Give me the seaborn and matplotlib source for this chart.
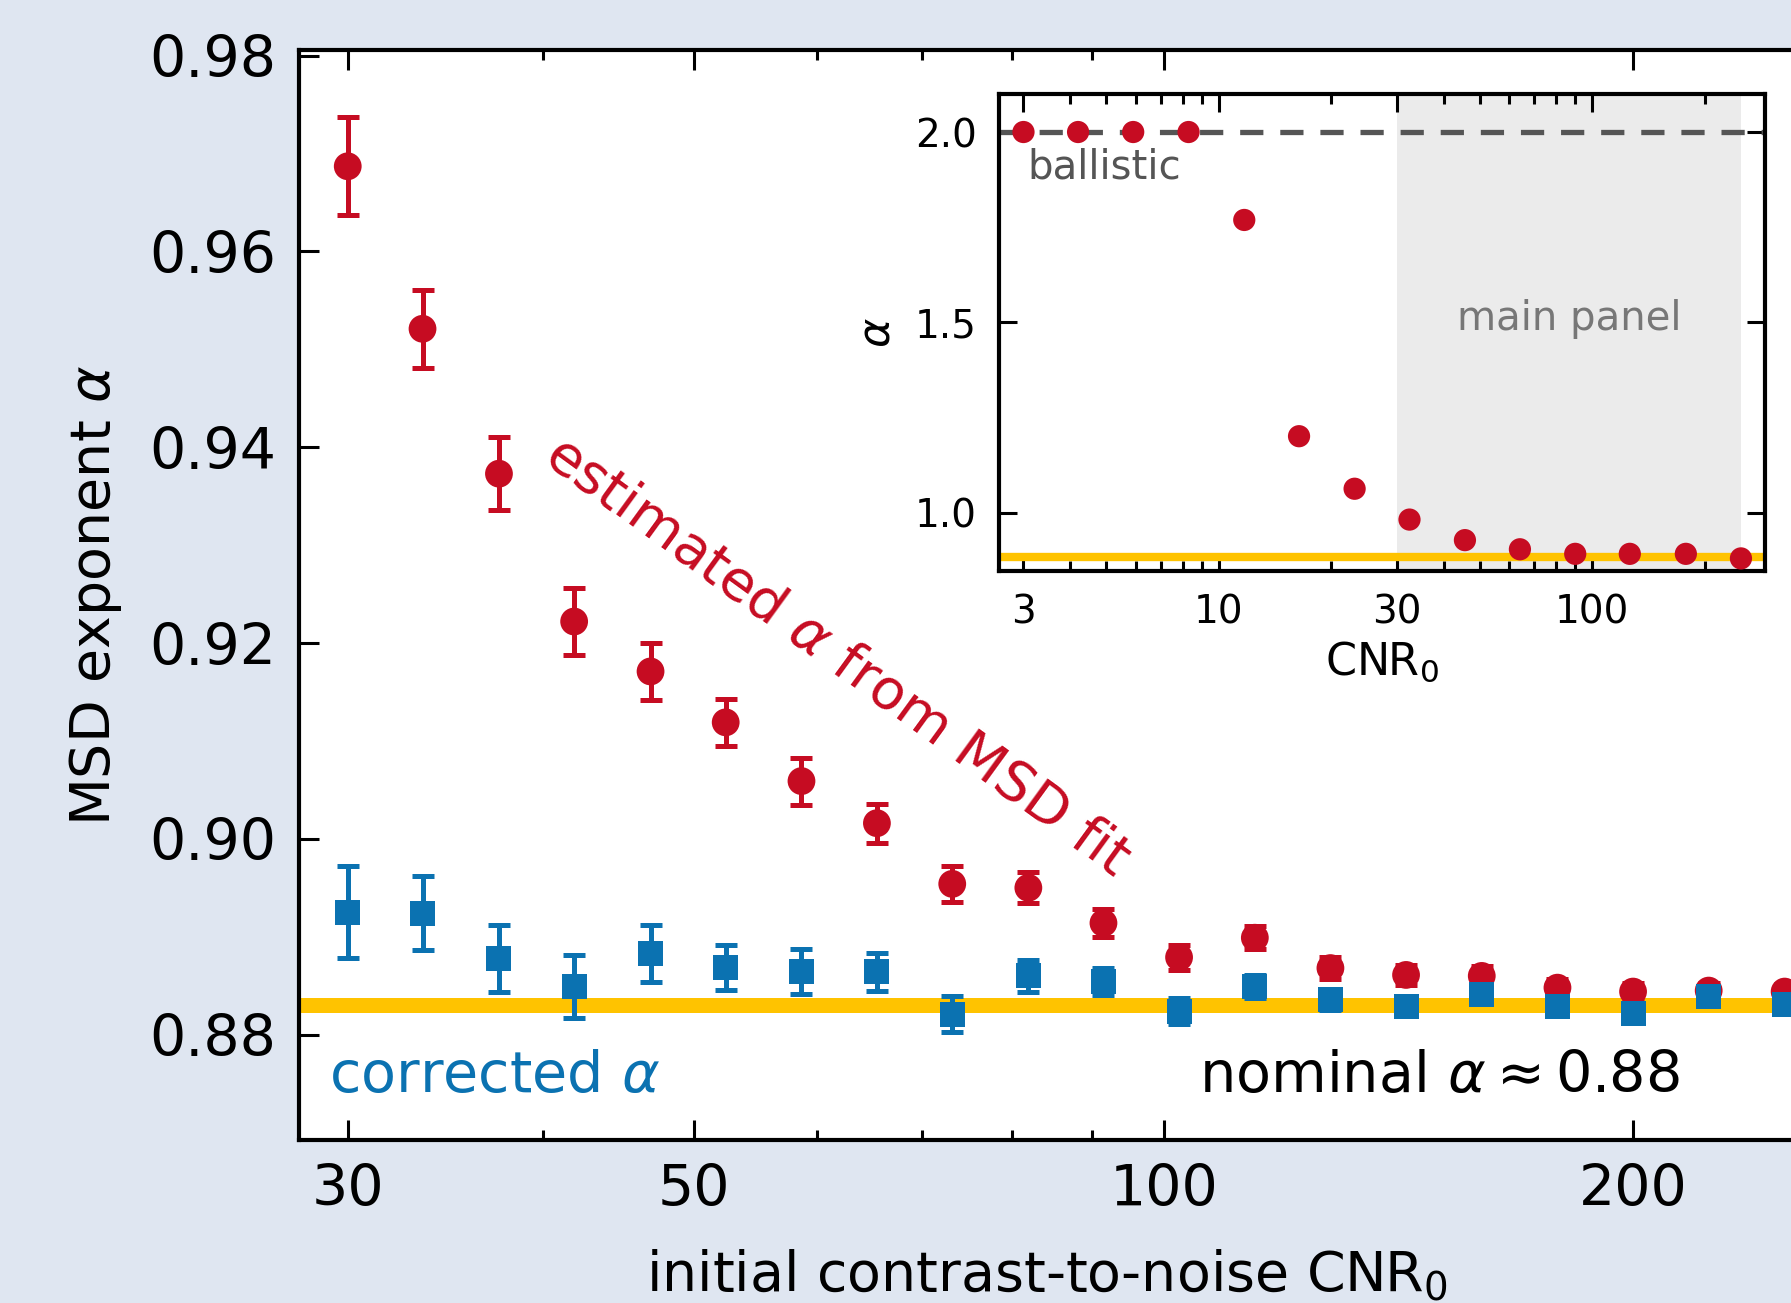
import numpy as np
import pandas as pd
import matplotlib
matplotlib.use("Agg")
import matplotlib.pyplot as plt
import seaborn as sns
from matplotlib.ticker import FixedLocator, LogLocator, NullFormatter, FixedFormatter

# ---------------- data ----------------
cnr = [30, 33.5, 37.5, 41.9, 46.9, 52.4, 58.6, 65.5, 73.2, 81.9,
       91.5, 102.3, 114.4, 127.9, 143, 159.9, 178.8, 199.9, 223.5, 250]
alpha_est = [0.9687, 0.9521, 0.9373, 0.9222, 0.9171, 0.9119, 0.9059, 0.9016, 0.8954, 0.8950,
             0.8914, 0.8879, 0.8899, 0.8868, 0.8861, 0.8860, 0.8848, 0.8844, 0.8845, 0.8844]
err_est = [0.0050, 0.0040, 0.0037, 0.0034, 0.0029, 0.0024, 0.0024, 0.0020, 0.0018, 0.0016,
           0.0014, 0.0013, 0.0012, 0.0011, 0.0010, 0.0010, 0.0009, 0.0009, 0.0008, 0.0008]
alpha_cor = [0.8925, 0.8924, 0.8878, 0.8849, 0.8883, 0.8869, 0.8865, 0.8864, 0.8821, 0.8860,
             0.8854, 0.8824, 0.8849, 0.8836, 0.8829, 0.8841, 0.8829, 0.8822, 0.8839, 0.8831]
err_cor = [0.0047, 0.0038, 0.0034, 0.0032, 0.0029, 0.0023, 0.0023, 0.0019, 0.0018, 0.0016,
           0.0014, 0.0013, 0.0012, 0.0011, 0.0010, 0.0010, 0.0009, 0.0009, 0.0008, 0.0008]
alpha_nominal = 0.883

inset_cnr = [3, 4.2, 5.9, 8.3, 11.7, 16.4, 23.1, 32.4, 45.6, 64, 90, 126, 178, 250]
inset_alpha = [2.0, 2.0, 2.0, 2.0, 1.769, 1.201, 1.063, 0.982, 0.928, 0.904, 0.892, 0.892, 0.892, 0.880]
alpha_ballistic = 2.0
main_range = [30, 250]

main_xticks = [30, 50, 100, 200]
main_yticks = [0.88, 0.90, 0.92, 0.94, 0.96, 0.98]
inset_xticks = [3, 10, 30, 100]
inset_yticks = [1.0, 1.5, 2.0]

# ---------------- style ----------------
RED = "#c60c22"
BLUE = "#0b72b1"
YELLOW = "#ffc300"
BG = "#dfe6f1"

sns.set_theme(style="ticks")
plt.rcParams["font.family"] = ["DejaVu Sans"]
plt.rcParams["mathtext.fontset"] = "dejavusans"
plt.rcParams["text.color"] = "black"
plt.rcParams["axes.labelcolor"] = "black"
plt.rcParams["xtick.color"] = "black"
plt.rcParams["ytick.color"] = "black"

fig = plt.figure(figsize=(1791 / 200, 1303 / 200), dpi=200, facecolor=BG)
ax = fig.add_axes([0.1667, 0.1248, 0.8353, 0.837])
ax.set_facecolor("white")

df_est = pd.DataFrame({"cnr": cnr, "alpha": alpha_est, "err": err_est})
df_cor = pd.DataFrame({"cnr": cnr, "alpha": alpha_cor, "err": err_cor})

ax.axhline(alpha_nominal, color=YELLOW, lw=5.4, zorder=1)

ax.errorbar(df_est["cnr"], df_est["alpha"], yerr=df_est["err"], fmt="none",
            ecolor=RED, elinewidth=1.8, capsize=4, capthick=1.8, zorder=2)
sns.scatterplot(data=df_est, x="cnr", y="alpha", ax=ax, color=RED, marker="o",
                s=100, edgecolor="none", linewidth=0, zorder=3, legend=False)
ax.errorbar(df_cor["cnr"], df_cor["alpha"], yerr=df_cor["err"], fmt="none",
            ecolor=BLUE, elinewidth=1.8, capsize=4, capthick=1.8, zorder=4)
sns.scatterplot(data=df_cor, x="cnr", y="alpha", ax=ax, color=BLUE, marker="s",
                s=81, edgecolor="none", linewidth=0, zorder=5, legend=False)

ax.set_xscale("log")
ax.set_xlim(27.9, 253.7)
ax.set_ylim(0.8692, 0.9806)
ax.xaxis.set_major_locator(FixedLocator(main_xticks))
ax.xaxis.set_major_formatter(FixedFormatter([str(t) for t in main_xticks]))
ax.xaxis.set_minor_locator(LogLocator(base=10, subs=np.arange(2, 10)))
ax.xaxis.set_minor_formatter(NullFormatter())
ax.yaxis.set_major_locator(FixedLocator(main_yticks))
ax.set_yticklabels([f"{t:.2f}" for t in main_yticks])

ax.tick_params(which="both", direction="in", top=True, right=False, colors="black",
               width=1.1, labelsize=20.5, pad=8)
ax.tick_params(which="major", length=7.2)
ax.tick_params(which="minor", length=3.6)
for s in ax.spines.values():
    s.set_linewidth(1.5)
    s.set_color("black")

ax.set_xlabel(r"initial contrast-to-noise CNR$_0$", fontsize=20, labelpad=11)
ax.set_ylabel(r"MSD exponent $\alpha$", fontsize=20, labelpad=9)

ax.text(29.2, 0.8757, r"corrected $\alpha$", color=BLUE, fontsize=20.6,
        ha="left", va="center", zorder=6)
ax.text(214, 0.8757, r"nominal $\alpha \approx 0.88$", color="black", fontsize=20.6,
        ha="right", va="center", zorder=6)
ax.text(61.8, 0.9186, r"estimated $\alpha$ from MSD fit", color=RED, fontsize=20.2,
        ha="center", va="center", rotation=-36, rotation_mode="anchor", zorder=6)

# ---------------- inset ----------------
ins = fig.add_axes([0.5578, 0.5618, 0.4277, 0.3661])
ins.set_facecolor("white")
ins.axvspan(main_range[0], main_range[1], color="#ebebeb", lw=0, zorder=0)
ins.axhline(alpha_ballistic, color="#555555", lw=1.9, dashes=(4.4, 3.2), zorder=1)
ins.axhline(alpha_nominal, color=YELLOW, lw=3, zorder=1)
df_in = pd.DataFrame({"cnr": inset_cnr, "alpha": inset_alpha})
sns.scatterplot(data=df_in, x="cnr", y="alpha", ax=ins, color=RED, marker="o",
                s=64, edgecolor="none", linewidth=0, zorder=3, legend=False)
ins.set_xscale("log")
ins.set_xlim(2.58, 290)
ins.set_ylim(0.847, 2.10)
ins.xaxis.set_major_locator(FixedLocator(inset_xticks))
ins.xaxis.set_major_formatter(FixedFormatter([str(t) for t in inset_xticks]))
ins.xaxis.set_minor_locator(LogLocator(base=10, subs=np.arange(1, 10)))
ins.xaxis.set_minor_formatter(NullFormatter())
ins.yaxis.set_major_locator(FixedLocator(inset_yticks))
ins.set_yticklabels([f"{t:.1f}" for t in inset_yticks])
ins.tick_params(which="both", direction="in", top=True, right=True, colors="black",
                width=1.1, labelsize=14, pad=8)
ins.tick_params(which="major", length=6.5)
ins.tick_params(which="minor", length=3.5)
for s in ins.spines.values():
    s.set_linewidth(1.5)
    s.set_color("black")
ins.set_xlabel(r"CNR$_0$", fontsize=16, labelpad=3)
ins.set_ylabel(r"$\alpha$", fontsize=16, labelpad=6)
ins.text(3.08, 1.907, "ballistic", color="#555555", fontsize=14.5, ha="left", va="center")
ins.text(87, 1.51, "main panel", color="#777777", fontsize=14.5, ha="center", va="center")

fig.savefig("out.png", dpi=200, facecolor=BG)
